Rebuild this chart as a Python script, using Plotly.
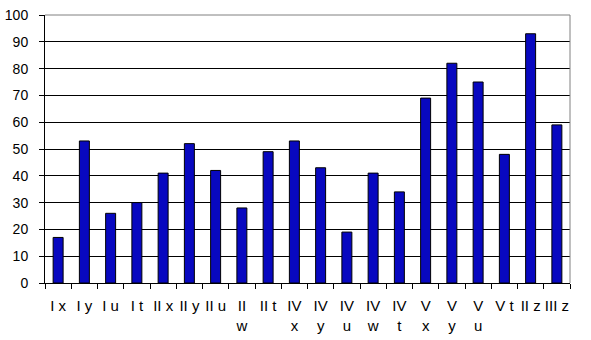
import plotly.graph_objects as go

categories = ["I x", "I y", "I u", "I t", "II x", "II y", "II u", "II<br>w", "II t",
              "IV<br>x", "IV<br>y", "IV<br>u", "IV<br>w", "IV<br>t",
              "V<br>x", "V<br>y", "V<br>u", "V t", "II z", "III z"]
values = [17, 53, 26, 30, 41, 52, 42, 28, 49, 53, 43, 19, 41, 34, 69, 82, 75, 48, 93, 59]
y_ticks = list(range(0, 101, 10))

fig = go.Figure(go.Bar(
    x=categories, y=values,
    marker=dict(color="#0808C0", line=dict(color="black", width=1)),
))

fig.update_layout(
    width=591, height=340,
    margin=dict(l=45, r=21, t=15, b=57),
    paper_bgcolor="white", plot_bgcolor="white",
    bargap=0.62, showlegend=False,
    font=dict(family="Liberation Sans, Arial, sans-serif", size=14, color="black"),
    shapes=[
        dict(type="line", xref="paper", yref="paper", x0=0, x1=1, y0=1, y1=1,
             line=dict(color="#808080", width=1)),
        dict(type="line", xref="paper", yref="paper", x0=1, x1=1, y0=0, y1=1,
             line=dict(color="#808080", width=1)),
    ],
)
fig.update_xaxes(
    type="category", showline=True, linecolor="black", linewidth=1,
    ticks="outside", tickson="boundaries", ticklen=5, tickcolor="black",
    showgrid=False, tickfont=dict(size=15), tickangle=0,
    ticklabelstandoff=9, automargin=False,
)
fig.update_yaxes(
    range=[0, 100], tickvals=y_ticks, showline=True, linecolor="black", linewidth=1,
    ticks="outside", ticklen=5, tickcolor="black",
    showgrid=True, gridcolor="black", gridwidth=1, zeroline=False,
    ticklabelstandoff=8, automargin=False,
)

fig.write_html("out.html")
